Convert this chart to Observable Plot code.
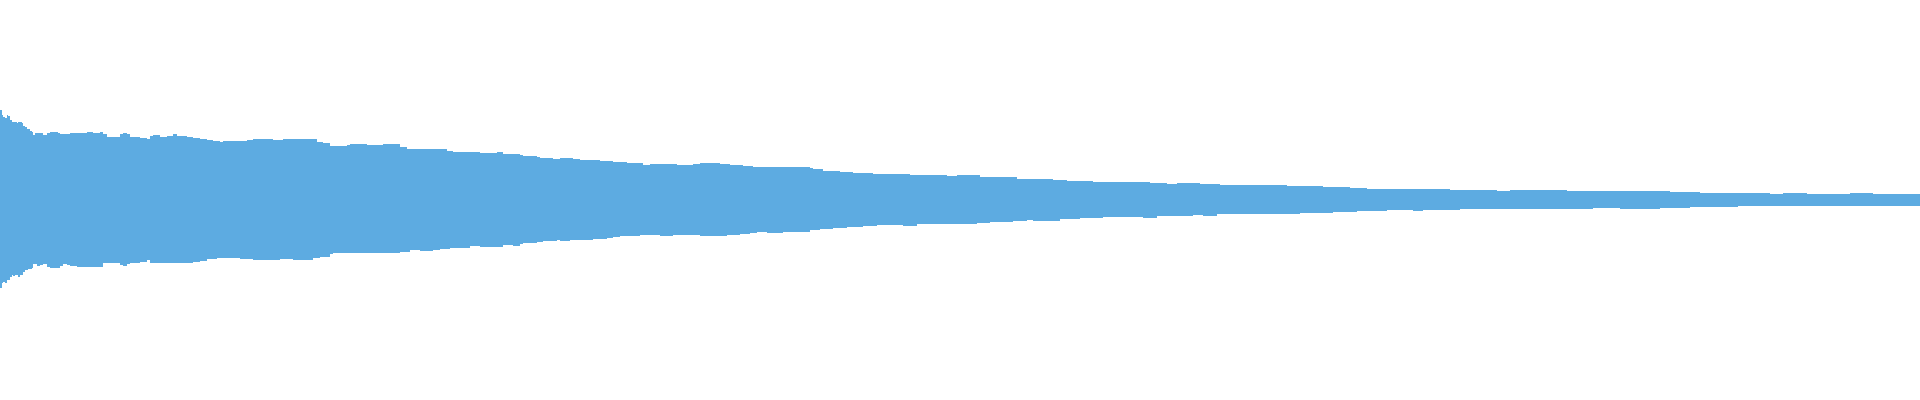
<!DOCTYPE html>
<html>
<head>
<meta charset="utf-8">
<script src="https://cdn.jsdelivr.net/npm/d3@7"></script>
<script src="https://cdn.jsdelivr.net/npm/@observablehq/plot@0.6"></script>
<style>
  html, body { margin: 0; padding: 0; background: #fff; }
  #chart svg { display: block; }
</style>
</head>
<body>
<div id="chart"></div>
<script>
// Upper envelope of the waveform (sample position, peak amplitude; full scale = 200)
const topPos = [0,2,3,5,7,8,10,12,17,18,22,23,25,27,30,32,33,35,43,47,50,58,60,70,87,93,100,103,107,120,123,127,130,140,147,150,153,160,167,173,177,187,193,200,207,213,220,223,247,253,273,283,313,317,323,330,347,350,367,383,400,407,447,453,480,497,503,520,523,537,540,553,560,573,580,600,613,627,643,650,677,693,700,720,730,743,753,810,813,823,840,853,873,910,947,957,980,1017,1053,1067,1093,1150,1167,1177,1200,1220,1287,1323,1350,1367,1450,1497,1510,1567,1670,1700,1770,1783,1807,1850,1873,1920];
const topAmp = [90,85,83,82,85,84,80,78,77,78,77,74,73,71,69,68,65,67,65,67,68,67,66,67,68,67,68,66,63,66,67,66,63,62,61,64,65,63,64,66,64,63,62,61,60,59,58,59,60,61,60,61,61,58,57,54,55,56,55,56,53,51,49,48,47,48,46,45,44,43,42,41,42,41,40,39,38,37,35,36,35,36,37,36,35,34,33,32,31,29,28,27,26,25,24,25,23,21,20,19,18,17,16,17,16,15,14,13,12,11,10,9,10,9,8,7,6,7,6,7,6,6];

// Lower envelope of the waveform (sample position, trough amplitude)
const botPos = [0,2,3,5,7,10,12,13,15,18,20,23,25,28,32,33,37,40,43,47,50,57,60,63,67,70,77,100,103,120,123,127,130,140,147,150,193,200,207,217,240,253,280,293,313,320,330,333,400,410,420,433,440,450,470,480,503,513,520,523,537,543,557,560,570,593,607,613,620,640,660,673,700,727,740,750,757,767,783,810,820,833,847,863,877,903,917,977,990,1013,1027,1033,1060,1080,1103,1143,1157,1193,1203,1217,1300,1333,1357,1387,1413,1423,1460,1593,1620,1660,1690,1738,1920];
const botAmp = [-88,-83,-82,-83,-80,-77,-75,-76,-75,-77,-75,-72,-70,-69,-68,-64,-66,-65,-64,-67,-68,-68,-66,-64,-65,-66,-67,-67,-63,-65,-66,-64,-63,-62,-60,-63,-62,-61,-59,-58,-59,-60,-59,-60,-58,-57,-54,-53,-52,-50,-51,-50,-49,-48,-46,-47,-45,-46,-44,-43,-42,-41,-40,-41,-40,-39,-38,-37,-36,-35,-36,-35,-36,-35,-34,-33,-32,-33,-32,-30,-29,-28,-27,-26,-25,-26,-24,-23,-22,-21,-20,-21,-19,-18,-17,-18,-16,-15,-16,-14,-13,-12,-11,-10,-11,-10,-9,-8,-9,-8,-7,-6,-6];

const upper = topPos.map((p, i) => ({pos: p, amp: topAmp[i]}));
const lower = botPos.map((p, i) => ({pos: p, amp: botAmp[i]}));

const fill = "#5dabe1";

const chart = Plot.plot({
  width: 1920,
  height: 400,
  marginTop: 0,
  marginBottom: 0,
  marginLeft: 0,
  marginRight: 0,
  x: {domain: [0, 1920], axis: null},
  y: {domain: [-200, 200], axis: null},
  marks: [
    Plot.areaY(upper, {x: "pos", y: "amp", curve: "step-after", fill, shapeRendering: "crispEdges"}),
    Plot.areaY(lower, {x: "pos", y: "amp", curve: "step-after", fill, shapeRendering: "crispEdges"})
  ]
});
document.getElementById("chart").appendChild(chart);
</script>
</body>
</html>
